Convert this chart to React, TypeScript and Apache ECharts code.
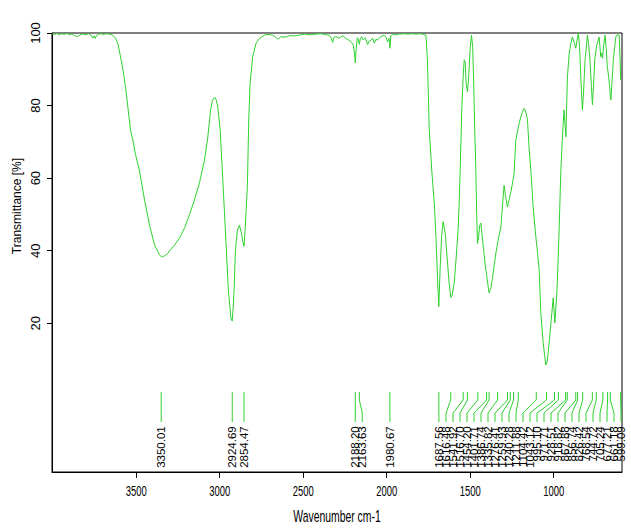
import React, { useEffect, useRef } from "react";
import * as echarts from "echarts";

const WAVENUMBERS = [
  4004, 3990, 3975, 3960, 3945, 3930, 3915, 3900, 3885, 3870, 3858, 3845, 3830, 3815, 3800, 3785, 3770, 3760, 3752, 3745,
  3738, 3725, 3710, 3695, 3680, 3665, 3650, 3640, 3625, 3610, 3590, 3576, 3564, 3550, 3534, 3520, 3504, 3480, 3450, 3420,
  3390, 3360, 3350, 3342, 3330, 3312, 3290, 3270, 3240, 3210, 3181, 3151, 3121, 3091, 3073, 3055, 3043, 3030, 3020, 3012,
  2997, 2984, 2966, 2948, 2933, 2925, 2918, 2912, 2906, 2894, 2882, 2870, 2862, 2854, 2846, 2834, 2826, 2818, 2802, 2782,
  2762, 2732, 2710, 2683, 2665, 2653, 2635, 2603, 2580, 2550, 2523, 2490, 2460, 2423, 2390, 2360, 2344, 2332, 2324, 2316,
  2303, 2285, 2264, 2244, 2225, 2210, 2200, 2193, 2188, 2183, 2176, 2169, 2164, 2158, 2150, 2140, 2128, 2114, 2104, 2094,
  2084, 2074, 2064, 2055, 2045, 2034, 2015, 2004, 1995, 1986, 1981, 1975, 1960, 1940, 1925, 1900, 1870, 1850, 1825, 1800,
  1780, 1765, 1756, 1745, 1729, 1715, 1705, 1696, 1688, 1680, 1671, 1662, 1650, 1638, 1626, 1616, 1608, 1596, 1584, 1572,
  1566, 1560, 1551, 1542, 1536, 1530, 1524, 1516, 1509, 1500, 1492, 1485, 1479, 1473, 1466, 1461, 1456, 1449, 1443, 1436,
  1428, 1419, 1410, 1401, 1392, 1387, 1377, 1368, 1356, 1346, 1332, 1316, 1309, 1297, 1288, 1277, 1267, 1256, 1249, 1237,
  1227, 1216, 1207, 1197, 1189, 1177, 1168, 1157, 1147, 1137, 1123, 1107, 1096, 1087, 1077, 1063, 1054, 1047, 1039, 1027,
  1011, 1003, 993, 981, 973, 967, 957, 947, 938, 927, 918, 908, 897, 888, 878, 868, 860, 852, 845, 836,
  828, 821, 812, 798, 791, 782, 774, 768, 761, 754, 743, 728, 718, 713, 708, 701, 692, 686, 679, 671,
  665, 658, 650, 643, 635, 628, 620, 608, 602, 599,
];

const TRANSMITTANCE = [
  99.8, 99.6, 99.9, 99.5, 99.8, 99.6, 99.9, 99.5, 99.7, 99.3, 99.0, 99.2, 99.6, 99.7, 99.5, 99.8, 99.4, 98.6, 99.2, 98.5,
  99.3, 99.7, 99.8, 99.6, 99.8, 99.7, 99.6, 99.4, 98.6, 97.2, 92.6, 88.9, 85.2, 79.7, 73.3, 70.5, 66.5, 62.0, 54.0, 47.0,
  41.6, 38.8, 38.4, 38.3, 38.6, 39.2, 40.5, 41.6, 43.5, 46.3, 49.9, 54.0, 58.7, 65.0, 70.5, 78.5, 81.5, 82.3, 81.5, 79.7,
  73.3, 62.0, 45.7, 29.2, 21.5, 20.6, 25.0, 31.0, 40.0, 45.7, 47.0, 45.0, 42.5, 41.2, 47.0, 58.0, 76.0, 86.1, 93.5, 97.2,
  98.5, 99.4, 99.6, 99.4, 98.8, 98.3, 98.9, 98.9, 99.3, 99.2, 99.4, 99.7, 99.5, 99.7, 99.8, 99.5, 99.4, 98.6, 97.4, 98.8,
  99.0, 98.6, 99.2, 98.5, 98.0, 97.4, 96.6, 94.5, 91.8, 95.5, 98.7, 98.2, 96.9, 98.4, 99.0, 98.1, 98.7, 96.8, 97.8, 98.0,
  98.6, 97.2, 98.3, 98.0, 98.6, 99.0, 99.4, 98.9, 97.6, 98.5, 95.8, 99.3, 99.6, 99.5, 99.7, 99.8, 99.7, 99.8, 99.7, 99.8,
  99.6, 99.4, 92.6, 73.3, 61.4, 53.0, 43.9, 32.9, 24.6, 35.0, 44.0, 48.0, 45.0, 38.0, 31.0, 27.1, 27.8, 31.0, 38.0, 46.0,
  53.0, 62.0, 78.0, 88.0, 92.6, 92.0, 86.0, 83.8, 88.0, 96.0, 99.4, 96.0, 86.0, 74.0, 62.0, 50.0, 42.0, 44.0, 47.0, 47.6,
  44.0, 40.0, 36.0, 33.0, 30.0, 28.4, 29.5, 32.0, 36.0, 39.4, 43.0, 46.6, 51.0, 58.0, 55.0, 52.0, 54.0, 56.3, 58.0, 61.4,
  70.5, 73.0, 75.0, 76.9, 78.0, 79.2, 78.5, 76.0, 68.0, 62.3, 52.0, 43.9, 39.0, 34.7, 22.9, 14.6, 11.0, 8.5, 9.5, 14.6,
  22.9, 27.0, 20.1, 28.4, 38.0, 46.6, 62.3, 72.0, 78.8, 71.4, 87.6, 94.0, 97.2, 98.9, 97.5, 95.8, 98.0, 100.0, 96.0, 86.0,
  78.8, 84.0, 92.6, 99.4, 97.0, 92.0, 85.0, 80.2, 86.0, 92.6, 96.5, 98.9, 93.5, 94.5, 93.0, 96.5, 99.4, 96.0, 90.7, 88.0,
  85.0, 81.5, 87.0, 92.6, 96.0, 98.9, 99.5, 99.4, 92.0, 87.0,
];

const PEAKS = [
  3350.01, 2924.69, 2854.47, 2188.2, 2163.63, 1980.67, 1687.56, 1616.48, 1541.92, 1516.7, 1454.2, 1401.71, 1386.74,
  1335.82, 1276.41, 1259.93, 1240.28, 1211.88, 1104.42, 1043.12, 995.1, 971.71, 928.51, 918.82, 867.88, 856.74, 826.42,
  768.54, 744.72, 705.24, 677.21, 661.18, 599.09,
];

const X_TICKS = [3500, 3000, 2500, 2000, 1500, 1000];
const Y_TICKS = [20, 40, 60, 80, 100];

const X_MIN = 591;
const X_MAX = 4004;
const Y_MIN = -21;
const Y_MAX = 100;

const GREEN = "#2ed12e";
const FONT = "'Liberation Sans', Arial, sans-serif";

export default function App() {
  const ref = useRef<HTMLDivElement>(null);

  useEffect(() => {
    const chart = echarts.init(ref.current as HTMLDivElement, null, { renderer: "svg" });

    const peakLabel = (params: any, api: any) => {
      const i = params.dataIndex;
      const px = PEAKS.map((w) => api.coord([w, 0])[0]);
      const gap = 7;
      const n = px.length;
      const pos: number[] = [];
      for (let k = 0; k < n; k++) pos[k] = k === 0 ? px[0] : Math.max(px[k], pos[k - 1] + gap);
      const limit = api.coord([X_MIN, 0])[0] - 1;
      for (let k = n - 1; k >= 0; k--) {
        pos[k] = k === n - 1 ? Math.min(pos[k], limit) : Math.min(pos[k], pos[k + 1] - gap);
      }
      const yTop = api.coord([0, 1.05])[1];
      const yB1 = api.coord([0, -1.16])[1];
      const yB2 = api.coord([0, -4.74])[1];
      const yEnd = api.coord([0, -7.22])[1];
      const yText = api.coord([0, -8.4])[1];
      return {
        type: "group",
        children: [
          {
            type: "polyline",
            shape: {
              points: [
                [px[i], yTop],
                [px[i], yB1],
                [pos[i], yB2],
                [pos[i], yEnd],
              ],
            },
            style: { stroke: GREEN, lineWidth: 1, fill: null },
          },
          {
            type: "text",
            x: pos[i],
            y: yText,
            rotation: Math.PI / 2,
            style: {
              text: PEAKS[i].toFixed(2),
              fontSize: 11.5,
              fontFamily: FONT,
              fill: "#000",
              textAlign: "right",
              textVerticalAlign: "middle",
            },
          },
        ],
      };
    };

    const xLabel = (_params: any, api: any) => {
      const v = api.value(0);
      const p = api.coord([v, Y_MIN]);
      return {
        type: "text",
        x: p[0],
        y: p[1] + 19,
        scaleX: 0.63,
        style: {
          text: String(v),
          fontSize: 15,
          fontFamily: FONT,
          fill: "#000",
          textAlign: "center",
          textVerticalAlign: "middle",
        },
      };
    };

    chart.setOption({
      animation: false,
      backgroundColor: "#ffffff",
      grid: {
        left: 52,
        right: 9,
        top: 33,
        bottom: 56,
        show: true,
        borderColor: "#000",
        borderWidth: 1,
        backgroundColor: "transparent",
      },
      xAxis: {
        type: "value",
        inverse: true,
        min: X_MIN,
        max: X_MAX,
        axisLine: { show: true, onZero: false, lineStyle: { color: "#000", width: 1 } },
        axisTick: { show: true, customValues: X_TICKS, length: 6, lineStyle: { color: "#000" } },
        axisLabel: { show: false },
        splitLine: { show: false },
      },
      yAxis: {
        type: "value",
        min: Y_MIN,
        max: Y_MAX,
        axisLine: { show: true, lineStyle: { color: "#000", width: 1 } },
        axisTick: { show: true, customValues: Y_TICKS, length: 5, lineStyle: { color: "#000" } },
        axisLabel: {
          show: true,
          customValues: Y_TICKS,
          rotate: 90,
          fontSize: 13,
          fontFamily: FONT,
          color: "#000",
          margin: 10,
        },
        splitLine: { show: false },
      },
      series: [
        {
          type: "line",
          data: WAVENUMBERS.map((w, i) => [w, TRANSMITTANCE[i]]),
          symbol: "none",
          showSymbol: false,
          silent: true,
          lineStyle: { color: GREEN, width: 1 },
          z: 3,
        },
        {
          type: "custom",
          data: PEAKS.map((p) => [p, 0]),
          renderItem: peakLabel,
          clip: false,
          silent: true,
          z: 4,
        },
        {
          type: "custom",
          data: X_TICKS.map((v) => [v, Y_MIN]),
          renderItem: xLabel,
          clip: false,
          silent: true,
          z: 4,
        },
      ],
      graphic: [
        {
          type: "text",
          x: 337,
          y: 517,
          scaleX: 0.65,
          style: {
            text: "Wavenumber cm-1",
            fontSize: 16,
            fontFamily: FONT,
            fill: "#000",
            textAlign: "center",
            textVerticalAlign: "middle",
          },
        },
        {
          type: "text",
          x: 17,
          y: 206,
          rotation: Math.PI / 2,
          style: {
            text: "Transmittance [%]",
            fontSize: 12,
            fontFamily: FONT,
            fill: "#000",
            textAlign: "center",
            textVerticalAlign: "middle",
          },
        },
      ],
    });

    return () => chart.dispose();
  }, []);

  return (
    <div
      ref={ref}
      style={{ position: "fixed", left: 0, top: 0, width: 631, height: 528, background: "#fff" }}
    />
  );
}
